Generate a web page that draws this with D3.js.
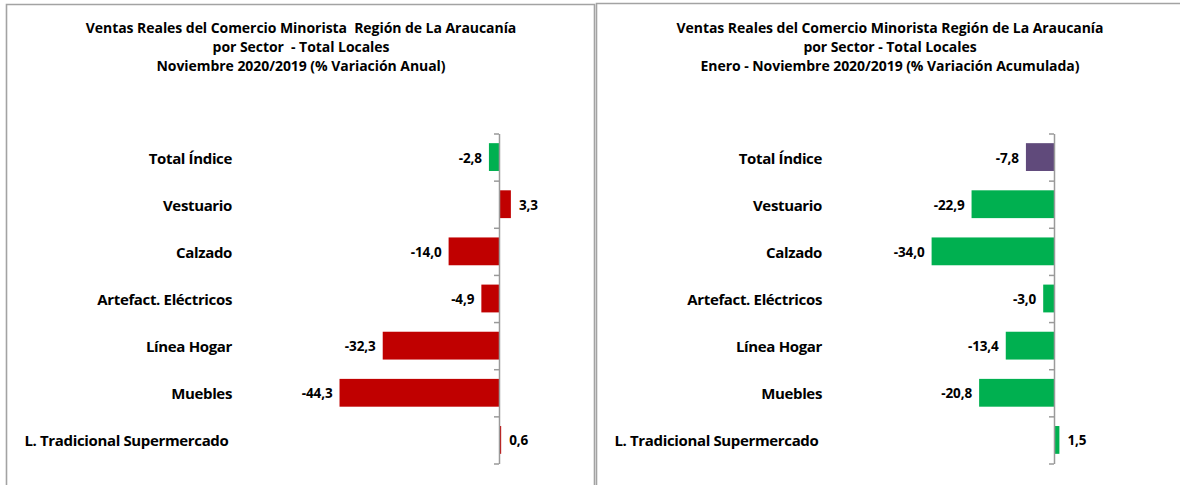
<!DOCTYPE html>
<html>
<head>
<meta charset="utf-8">
<script src="https://cdn.jsdelivr.net/npm/d3@7"></script>
<style>
  html, body { margin: 0; padding: 0; background: #fff; }
  svg { display: block; }
  text { font-family: "Open Sans", Lato, sans-serif; font-weight: bold; fill: #000; white-space: pre; }
</style>
</head>
<body>
<svg id="chart" width="1180" height="485"></svg>
<script>
// ---- Data ----
const categories = [
  "Total Índice",
  "Vestuario",
  "Calzado",
  "Artefact. Eléctricos",
  "Línea Hogar",
  "Muebles",
  "L. Tradicional Supermercado "
];
const anualValues = [-2.8, 3.3, -14.0, -4.9, -32.3, -44.3, 0.6];
const acumuladaValues = [-7.8, -22.9, -34.0, -3.0, -13.4, -20.8, 1.5];
const titleAnual = [
  "Ventas Reales del Comercio Minorista  Región de La Araucanía",
  "por Sector  - Total Locales",
  "Noviembre 2020/2019 (% Variación Anual)"
];
const titleAcumulada = [
  "Ventas Reales del Comercio Minorista Región de La Araucanía",
  "por Sector - Total Locales",
  "Enero - Noviembre 2020/2019 (% Variación Acumulada)"
];

// ---- Styles ----
const RED = "#C00000", GREEN = "#00B050", PURPLE = "#604A7B";
const fmt = d3.formatLocale({decimal: ",", thousands: ".", grouping: [3], currency: ["", ""], minus: "-"}).format(".1f");

const svg = d3.select("#chart");

// panel borders
const border = "#a3a3a3";
svg.append("path").attr("d", "M6.5,485 V4.5 H594.5 V485")
  .attr("fill", "none").attr("stroke", border).attr("stroke-width", 1.6);
svg.append("path").attr("d", "M596.5,485 V3.5 H1180")
  .attr("fill", "none").attr("stroke", border).attr("stroke-width", 1.6);

function panel(cfg) {
  const g = svg.append("g");
  // title
  cfg.title.forEach((t, i) => {
    g.append("text")
      .attr("x", cfg.titleX)
      .attr("y", [27.5, 46, 65.5][i])
      .attr("text-anchor", "middle")
      .attr("dominant-baseline", "central")
      .attr("font-size", 14)
      .attr("letter-spacing", -0.05)
      .text(t);
  });

  const y = d3.scaleBand().domain(categories).range([133.5, 463.5])
    .paddingInner(0.41).paddingOuter(0.205);
  const x = d3.scaleLinear().domain([-70, 20])
    .range([cfg.zero - 70 * 3.6, cfg.zero + 20 * 3.6]);

  // bars
  g.selectAll("rect.bar").data(cfg.values).join("rect")
    .attr("class", "bar")
    .attr("x", d => Math.min(x(0), x(d)))
    .attr("width", d => Math.abs(x(d) - x(0)))
    .attr("y", (d, i) => y(categories[i]))
    .attr("height", y.bandwidth())
    .attr("fill", (d, i) => cfg.color(i));

  // axis (category boundaries)
  const yb = d3.scaleLinear().domain([0, categories.length]).range([133.5, 463.5]);
  const ax = g.append("g")
    .attr("transform", `translate(${x(0)},0)`)
    .call(d3.axisLeft(yb).ticks(categories.length).tickSize(5).tickSizeOuter(0).tickFormat(""));
  ax.selectAll("path, line").attr("stroke", "#9a9a9a").attr("stroke-width", 1.5);

  // category labels
  g.selectAll("text.cat").data(categories).join("text")
    .attr("class", "cat")
    .attr("x", cfg.labelRight)
    .attr("y", d => y(d) + y.bandwidth() / 2 + 0.5)
    .attr("text-anchor", "end")
    .attr("dominant-baseline", "central")
    .attr("font-size", 15)
    .attr("letter-spacing", -0.35)
    .text(d => d);

  // value labels
  g.selectAll("text.val").data(cfg.values).join("text")
    .attr("class", "val")
    .attr("x", d => d < 0 ? x(d) - 7 : x(d) + 8)
    .attr("y", (d, i) => y(categories[i]) + y.bandwidth() / 2 + 0.5)
    .attr("text-anchor", d => d < 0 ? "end" : "start")
    .attr("dominant-baseline", "central")
    .attr("font-size", 13.5)
    .attr("letter-spacing", -0.1)
    .text(d => fmt(d));
}

panel({
  title: titleAnual, titleX: 301, zero: 499, labelRight: 232,
  values: anualValues, color: i => i === 0 ? GREEN : RED
});
panel({
  title: titleAcumulada, titleX: 890, zero: 1054, labelRight: 822,
  values: acumuladaValues, color: i => i === 0 ? PURPLE : GREEN
});
</script>
</body>
</html>
